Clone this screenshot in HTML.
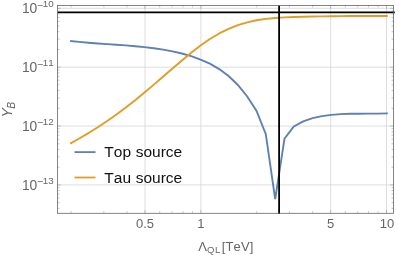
<!DOCTYPE html>
<html><head><meta charset="utf-8"><title>Plot</title>
<style>html,body{margin:0;padding:0;background:#fff}svg{display:block}</style></head>
<body>
<svg width="399" height="255" viewBox="0 0 399 255" style="display:block">
<rect width="399" height="255" fill="#fff"/>
<path d="M145.03,5.4 V213.3 M200.90,5.4 V213.3 M330.63,5.4 V213.3 M386.50,5.4 V213.3 M57.5,8.30 H393.5 M57.5,67.17 H393.5 M57.5,126.04 H393.5 M57.5,184.91 H393.5" stroke="#d6d6d6" stroke-width="0.8" fill="none"/>
<path d="M70.20,40.99 L79.14,41.93 L88.48,42.73 L97.81,43.43 L107.15,44.08 L116.49,44.73 L125.83,45.42 L135.17,46.20 L144.50,47.12 L153.84,48.22 L163.18,49.59 L172.52,51.31 L181.86,53.47 L191.19,56.16 L200.53,59.51 L209.87,63.72 L219.21,69.09 L228.55,76.03 L237.88,84.99 L247.22,96.47 L256.56,110.90 L265.80,134.20 L275.20,199.10 L284.50,138.60 L293.80,126.50 L303.25,121.46 L312.59,118.17 L321.93,116.08 L331.26,114.84 L340.60,114.14 L349.94,113.80 L359.28,113.69 L368.62,113.67 L377.95,113.60 L387.80,113.33" stroke="#5E81B5" stroke-width="1.9" fill="none" stroke-linejoin="miter" stroke-linecap="butt"/>
<path d="M70.20,143.60 L79.14,138.52 L88.48,133.06 L97.81,127.23 L107.15,121.02 L116.49,114.45 L125.83,107.51 L135.17,100.22 L144.50,92.57 L153.84,84.62 L163.18,76.52 L172.52,68.42 L181.86,60.45 L191.19,52.78 L200.53,45.58 L209.87,39.06 L219.21,33.45 L228.55,28.84 L237.88,25.17 L247.22,22.35 L256.56,20.30 L265.90,18.88 L275.24,17.95 L284.57,17.38 L293.91,17.02 L303.25,16.74 L312.59,16.51 L321.93,16.33 L331.26,16.19 L340.60,16.08 L349.94,16.02 L359.28,15.98 L368.62,15.97 L377.95,15.98 L387.80,16.01" stroke="#E19C24" stroke-width="1.9" fill="none" stroke-linejoin="round" stroke-linecap="butt"/>
<path d="M57.5,12.4 H394.8 M279.1,5.4 V213.9" stroke="#000" stroke-width="1.8" fill="none"/>
<path d="M145.03,213.3 v-3.4 M145.03,5.4 v3.4 M200.90,213.3 v-3.4 M200.90,5.4 v3.4 M330.63,213.3 v-3.4 M330.63,5.4 v3.4 M386.50,213.3 v-3.4 M386.50,5.4 v3.4 M71.17,213.3 v-2.0 M71.17,5.4 v2.0 M103.85,213.3 v-2.0 M103.85,5.4 v2.0 M127.04,213.3 v-2.0 M127.04,5.4 v2.0 M159.72,213.3 v-2.0 M159.72,5.4 v2.0 M172.15,213.3 v-2.0 M172.15,5.4 v2.0 M182.91,213.3 v-2.0 M182.91,5.4 v2.0 M192.41,213.3 v-2.0 M192.41,5.4 v2.0 M256.77,213.3 v-2.0 M256.77,5.4 v2.0 M289.45,213.3 v-2.0 M289.45,5.4 v2.0 M312.64,213.3 v-2.0 M312.64,5.4 v2.0 M345.32,213.3 v-2.0 M345.32,5.4 v2.0 M357.75,213.3 v-2.0 M357.75,5.4 v2.0 M368.51,213.3 v-2.0 M368.51,5.4 v2.0 M378.01,213.3 v-2.0 M378.01,5.4 v2.0 M57.5,8.30 h3.4 M393.5,8.30 h-3.4 M57.5,67.17 h3.4 M393.5,67.17 h-3.4 M57.5,126.04 h3.4 M393.5,126.04 h-3.4 M57.5,184.91 h3.4 M393.5,184.91 h-3.4 M57.5,49.45 h2.0 M393.5,49.45 h-2.0 M57.5,39.08 h2.0 M393.5,39.08 h-2.0 M57.5,31.73 h2.0 M393.5,31.73 h-2.0 M57.5,26.02 h2.0 M393.5,26.02 h-2.0 M57.5,21.36 h2.0 M393.5,21.36 h-2.0 M57.5,17.42 h2.0 M393.5,17.42 h-2.0 M57.5,14.01 h2.0 M393.5,14.01 h-2.0 M57.5,10.99 h2.0 M393.5,10.99 h-2.0 M57.5,108.32 h2.0 M393.5,108.32 h-2.0 M57.5,97.95 h2.0 M393.5,97.95 h-2.0 M57.5,90.60 h2.0 M393.5,90.60 h-2.0 M57.5,84.89 h2.0 M393.5,84.89 h-2.0 M57.5,80.23 h2.0 M393.5,80.23 h-2.0 M57.5,76.29 h2.0 M393.5,76.29 h-2.0 M57.5,72.88 h2.0 M393.5,72.88 h-2.0 M57.5,69.86 h2.0 M393.5,69.86 h-2.0 M57.5,167.19 h2.0 M393.5,167.19 h-2.0 M57.5,156.82 h2.0 M393.5,156.82 h-2.0 M57.5,149.47 h2.0 M393.5,149.47 h-2.0 M57.5,143.76 h2.0 M393.5,143.76 h-2.0 M57.5,139.10 h2.0 M393.5,139.10 h-2.0 M57.5,135.16 h2.0 M393.5,135.16 h-2.0 M57.5,131.75 h2.0 M393.5,131.75 h-2.0 M57.5,128.73 h2.0 M393.5,128.73 h-2.0 M57.5,208.34 h2.0 M393.5,208.34 h-2.0 M57.5,202.63 h2.0 M393.5,202.63 h-2.0 M57.5,197.97 h2.0 M393.5,197.97 h-2.0 M57.5,194.03 h2.0 M393.5,194.03 h-2.0 M57.5,190.62 h2.0 M393.5,190.62 h-2.0 M57.5,187.60 h2.0 M393.5,187.60 h-2.0" stroke="#8c8c8c" stroke-width="0.5" fill="none"/>
<rect x="57.5" y="5.4" width="336.0" height="207.9" fill="none" stroke="#666" stroke-width="0.8"/>
<path d="M74.5,152.1 H95.5" stroke="#5E81B5" stroke-width="1.8"/>
<path d="M74.5,177.5 H95.5" stroke="#E19C24" stroke-width="1.8"/>
<g font-family="'Liberation Sans', Arial, sans-serif" font-size="15.5" word-spacing="0.4" style="font-kerning:none" fill="#111">
<text x="104.3" y="157.3">Top source</text>
<text x="104.3" y="182.9">Tau source</text>
</g>
<g font-family="'Liberation Sans', Arial, sans-serif" font-size="13" style="font-kerning:none" fill="#666">
<text y="13.00" font-size="13.8"><tspan x="21.9">10</tspan><tspan x="37.0" dy="-4.3" font-size="10.5">−</tspan><tspan x="42.7" dy="-1.3" font-size="9.8">10</tspan></text>
<text y="71.87" font-size="13.8"><tspan x="21.9">10</tspan><tspan x="37.0" dy="-4.3" font-size="10.5">−</tspan><tspan x="42.7" dy="-1.3" font-size="9.8">11</tspan></text>
<text y="130.74" font-size="13.8"><tspan x="21.9">10</tspan><tspan x="37.0" dy="-4.3" font-size="10.5">−</tspan><tspan x="42.7" dy="-1.3" font-size="9.8">12</tspan></text>
<text y="189.61" font-size="13.8"><tspan x="21.9">10</tspan><tspan x="37.0" dy="-4.3" font-size="10.5">−</tspan><tspan x="42.7" dy="-1.3" font-size="9.8">13</tspan></text>
<text x="145.03" y="228.3" text-anchor="middle">0.5</text>
<text x="200.90" y="228.3" text-anchor="middle">1</text>
<text x="330.63" y="228.3" text-anchor="middle">5</text>
<text x="386.9" y="228.3" text-anchor="middle">10</text>
<text x="198.3" y="251.3">Λ<tspan font-size="9.5" dy="1.4" letter-spacing="0.7">QL</tspan><tspan dy="-1.4" x="221.8" letter-spacing="0.1">[TeV]</tspan></text>
<text transform="translate(11.8,117.6) rotate(-90)" font-style="italic" font-size="14">Y<tspan font-size="10.4" dy="3.1" dx="-0.4">B</tspan></text>
</g>
</svg>
</body></html>
